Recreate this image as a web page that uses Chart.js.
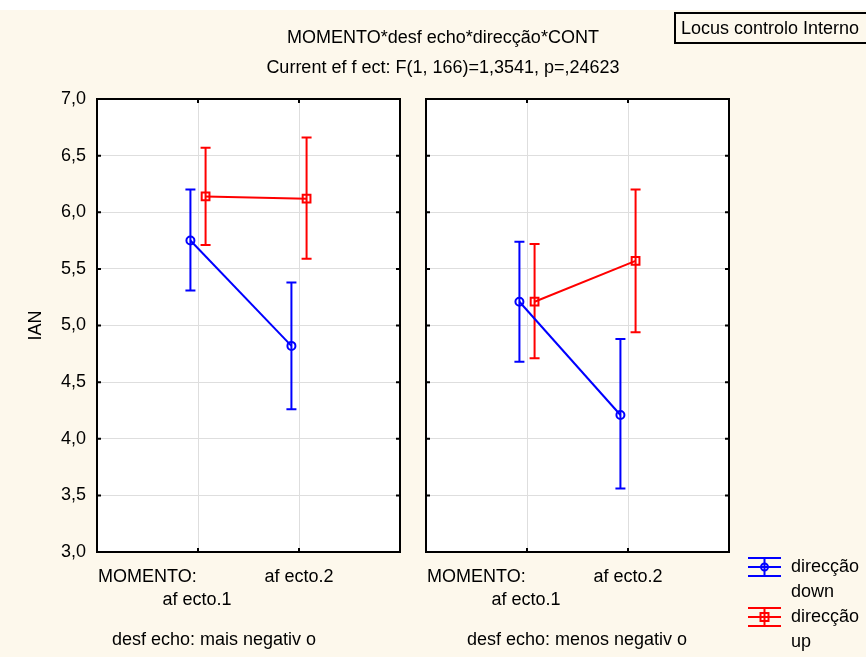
<!DOCTYPE html>
<html>
<head>
<meta charset="utf-8">
<script src="https://cdn.jsdelivr.net/npm/chart.js@4/dist/chart.umd.min.js"></script>
<style>
  body { margin: 0; background: #fff; }
  #page { position: relative; width: 866px; height: 657px; overflow: hidden; background: #fdf8ec; border-top: 10px solid #fff; box-sizing: border-box; }
  canvas { position: absolute; top: -10px; }
  .txt { position: absolute; font: 18px "Liberation Sans", Arial, sans-serif; color: #000; white-space: nowrap; }
  #locus { left: 674px; top: 2px; width: 200px; height: 32px; border: 2px solid #000; box-sizing: border-box; padding-left: 5px; line-height: 28px; }
</style>
</head>
<body>
<div id="page">
  <canvas id="left" width="410" height="657" style="left:0"></canvas>
  <canvas id="right" width="456" height="657" style="left:410px"></canvas>
  <div class="txt" style="left:0;width:886px;text-align:center;top:17px">MOMENTO*desf echo*direcção*CONT</div>
  <div class="txt" style="left:0;width:886px;text-align:center;top:47px">Current ef f ect: F(1, 166)=1,3541, p=,24623</div>
  <div class="txt" id="locus">Locus controlo Interno</div>
</div>
<script>
// data
const categories = ['af ecto.1', 'af ecto.2'];
const panelNames = ['desf echo: mais negativ o', 'desf echo: menos negativ o'];
const seriesNames = ['direcção down', 'direcção up'];
const yTicks = [3.0, 3.5, 4.0, 4.5, 5.0, 5.5, 6.0, 6.5, 7.0];

// mais negativo
const downMeanMais = [5.75, 4.82];
const downLowMais = [5.31, 4.26];
const downHighMais = [6.20, 5.38];
const upMeanMais = [6.14, 6.12];
const upLowMais = [5.71, 5.59];
const upHighMais = [6.57, 6.66];

// menos negativo
const downMeanMenos = [5.21, 4.21];
const downLowMenos = [4.68, 3.56];
const downHighMenos = [5.74, 4.88];
const upMeanMenos = [5.21, 5.57];
const upLowMenos = [4.71, 4.94];
const upHighMenos = [5.72, 6.20];

const FONT = '18px "Liberation Sans", Arial, sans-serif';
const shift = 0.075; // small horizontal dodge between the two series

function points(mean, low, high, dx) {
    return mean.map((m, i) => ({ x: i + 1 + dx, y: m, lo: low[i], hi: high[i] }));
}

function makeDatasets(dm, dl, dh, um, ul, uh) {
    return [
        {
            label: seriesNames[0],
            data: points(dm, dl, dh, -shift),
            borderColor: '#0000ff',
            backgroundColor: 'rgba(0,0,0,0)',
            borderWidth: 2,
            pointStyle: 'circle',
            pointRadius: 4,
            pointBorderWidth: 2,
            showLine: true,
        },
        {
            label: seriesNames[1],
            data: points(um, ul, uh, shift),
            borderColor: '#ff0000',
            backgroundColor: 'rgba(0,0,0,0)',
            borderWidth: 2,
            pointStyle: 'rect',
            pointRadius: 5.5,
            pointBorderWidth: 2,
            showLine: true,
        },
    ];
}

// error bars
const errorBars = {
    id: 'errorBars',
    beforeDatasetsDraw(chart) {
        const ctx = chart.ctx;
        const y = chart.scales.y;
        chart.data.datasets.forEach((ds, d) => {
            const meta = chart.getDatasetMeta(d);
            ctx.save();
            ctx.strokeStyle = ds.borderColor;
            ctx.lineWidth = 2;
            meta.data.forEach((pt, i) => {
                const top = y.getPixelForValue(ds.data[i].hi);
                const bot = y.getPixelForValue(ds.data[i].lo);
                ctx.beginPath();
                ctx.moveTo(pt.x, top); ctx.lineTo(pt.x, bot);
                ctx.moveTo(pt.x - 5, top); ctx.lineTo(pt.x + 5, top);
                ctx.moveTo(pt.x - 5, bot); ctx.lineTo(pt.x + 5, bot);
                ctx.stroke();
            });
            ctx.restore();
        });
    }
};

// white plot area, frame, inner ticks, labels
const frame = {
    id: 'frame',
    beforeDraw(chart) {
        const a = chart.chartArea;
        chart.ctx.save();
        chart.ctx.fillStyle = '#fff';
        chart.ctx.fillRect(a.left, a.top, a.right - a.left, a.bottom - a.top);
        chart.ctx.restore();
    },
    afterDraw(chart, args, opts) {
        const ctx = chart.ctx;
        const a = chart.chartArea;
        const xs = chart.scales.x, ys = chart.scales.y;
        ctx.save();
        ctx.strokeStyle = '#000';
        ctx.lineWidth = 2;
        ctx.strokeRect(a.left, a.top, a.right - a.left, a.bottom - a.top);
        ctx.beginPath();
        yTicks.forEach(v => {
            const p = ys.getPixelForValue(v);
            ctx.moveTo(a.left, p); ctx.lineTo(a.left + 4, p);
            ctx.moveTo(a.right, p); ctx.lineTo(a.right - 4, p);
        });
        [1, 2].forEach(v => {
            const p = xs.getPixelForValue(v);
            ctx.moveTo(p, a.top); ctx.lineTo(p, a.top + 4);
            ctx.moveTo(p, a.bottom); ctx.lineTo(p, a.bottom - 4);
        });
        ctx.stroke();

        ctx.fillStyle = '#000';
        ctx.font = FONT;
        ctx.textBaseline = 'middle';
        ctx.textAlign = 'left';
        ctx.fillText('MOMENTO:', a.left + 1, 577);
        ctx.textAlign = 'center';
        ctx.fillText(categories[0], xs.getPixelForValue(1) - 1, 600);
        ctx.fillText(categories[1], xs.getPixelForValue(2), 577);
        ctx.fillText(panelNames[opts.panel], opts.subX, 640);

        if (opts.panel === 0) {
            ctx.save();
            ctx.translate(36, (a.top + a.bottom) / 2);
            ctx.rotate(-Math.PI / 2);
            ctx.fillText('IAN', 0, 0);
            ctx.restore();
        }

        if (opts.legend) {
            const lx = opts.legend;
            chart.data.datasets.forEach((ds, d) => {
                const cy = 567 + d * 50;
                ctx.strokeStyle = ds.borderColor;
                ctx.lineWidth = 2;
                ctx.beginPath();
                ctx.moveTo(lx, cy - 9); ctx.lineTo(lx + 33, cy - 9);
                ctx.moveTo(lx, cy); ctx.lineTo(lx + 33, cy);
                ctx.moveTo(lx, cy + 9); ctx.lineTo(lx + 33, cy + 9);
                ctx.moveTo(lx + 16.5, cy - 9); ctx.lineTo(lx + 16.5, cy + 9);
                ctx.stroke();
                ctx.beginPath();
                if (d === 0) ctx.arc(lx + 16.5, cy, 3.5, 0, Math.PI * 2);
                else ctx.rect(lx + 12.5, cy - 4, 8, 8);
                ctx.stroke();
                ctx.fillStyle = '#000';
                ctx.textAlign = 'left';
                const words = ds.label.split(' ');
                ctx.fillText(words[0], lx + 43, cy);
                ctx.fillText(words[1], lx + 43, cy + 25);
            });
        }
        ctx.restore();
    }
};

function makeChart(id, datasets, yWidth, padRight, showY, opts) {
    return new Chart(document.getElementById(id), {
        type: 'scatter',
        data: { datasets: datasets },
        plugins: [errorBars, frame],
        options: {
            responsive: false,
            animation: false,
            devicePixelRatio: 1,
            layout: { padding: { top: 99, bottom: 105, right: padRight, left: 0 } },
            plugins: {
                legend: { display: false },
                tooltip: { enabled: false },
                frame: opts,
            },
            scales: {
                x: {
                    type: 'linear', min: 0, max: 3,
                    ticks: { display: false, stepSize: 1 },
                    grid: { color: '#dedede', drawTicks: false },
                    border: { display: false },
                    afterFit: s => { s.height = 0; },
                },
                y: {
                    min: 3, max: 7,
                    afterBuildTicks: s => { s.ticks = yTicks.map(v => ({ value: v })); },
                    ticks: {
                        display: showY,
                        padding: 11,
                        color: '#000',
                        font: { family: '"Liberation Sans", Arial, sans-serif', size: 18 },
                        callback: v => v.toFixed(1).replace('.', ','),
                    },
                    grid: { color: '#dedede', drawTicks: false },
                    border: { display: false },
                    afterFit: s => { s.width = yWidth; },
                },
            },
        },
    });
}

makeChart('left',
    makeDatasets(downMeanMais, downLowMais, downHighMais, upMeanMais, upLowMais, upHighMais),
    97, 10, true, { panel: 0, subX: 214 });
makeChart('right',
    makeDatasets(downMeanMenos, downLowMenos, downHighMenos, upMeanMenos, upLowMenos, upHighMenos),
    16, 137, false, { panel: 1, subX: 167, legend: 338 });
</script>
</body>
</html>
